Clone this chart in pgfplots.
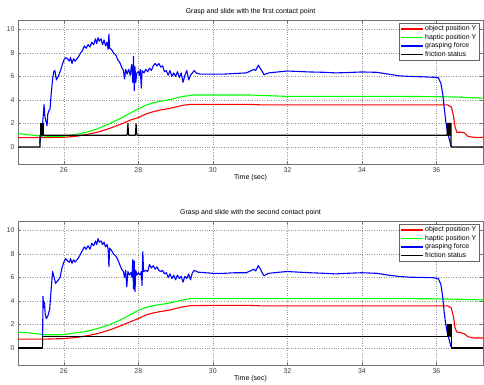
\documentclass[border=0pt]{standalone}
\usepackage{pgfplots}
\pgfplotsset{compat=1.18}
\usepackage{fontspec}
\setmainfont{Liberation Sans}
\definecolor{mred}{rgb}{1,0,0}
\definecolor{mgreen}{rgb}{0,1,0}
\definecolor{mblue}{rgb}{0,0,1}
\pgfplotsset{
  legend image code/.code={\draw[#1, line width=1.3pt] (0bp,0bp) -- (22bp,0bp);},
  myax/.style={
    scale only axis, width=465bp, height=144bp,
    xmin=24.77, xmax=37.25, ymin=-1.45, ymax=10.8,
    xtick={26,28,30,32,34,36}, ytick={0,2,4,6,8,10},
    grid=major, major grid style={dotted, black!40, line width=0.45pt},
    axis line style={black!55, line width=0.6pt},
    tick style={black!55}, tick align=inside, major tick length=3bp,
    ticklabel style={font=\fontsize{7}{8}\selectfont, text=black!75},
    /pgf/number format/assume math mode=true,
    xlabel={Time (sec)}, xlabel style={font=\fontsize{7}{8}\selectfont, yshift=5bp},
    title style={font=\fontsize{7}{8}\selectfont, yshift=-4bp},
    legend style={at={(1,1)}, anchor=north east, xshift=-4bp, yshift=-3bp,
      font=\fontsize{7}{8}\selectfont, draw=black!60, inner sep=1.5pt, row sep=0pt,
      nodes={inner sep=1pt}, cells={anchor=west}},
    every axis plot/.append style={line width=1.1pt, line join=round},
  }
}
\begin{document}
\begin{tikzpicture}
\path[use as bounding box] (0,0) rectangle (484bp,-385bp);
% ---------------- top axis ----------------
\begin{axis}[myax, at={(18bp,-164bp)}, anchor=south west,
  title={Grasp and slide with the first contact point}]
\addplot[mred] coordinates {(24.77,0.8)(25.5,0.8)(26.0,0.82)(26.3,0.9)(26.6,1.05)(26.9,1.25)(27.2,1.55)(27.5,1.9)(27.8,2.3)(28.0,2.5)(28.2,2.8)(28.4,3.0)(28.6,3.15)(28.8,3.25)(29.0,3.4)(29.2,3.55)(29.4,3.62)(30,3.62)(31,3.62)(31.3,3.58)(36.3,3.58)(36.4,3.4)(36.46,2.6)(36.5,1.7)(36.55,1.25)(36.65,1.25)(36.75,1.2)(36.85,0.9)(37,0.82)(37.25,0.82)};
\addlegendentry{object position Y}
\addplot[mgreen] coordinates {(24.77,1.15)(25.0,1.05)(25.3,0.95)(25.6,0.9)(25.9,0.9)(26.1,0.95)(26.3,1.05)(26.6,1.25)(26.9,1.55)(27.2,1.95)(27.5,2.4)(27.8,2.9)(28.0,3.25)(28.2,3.55)(28.4,3.75)(28.6,3.9)(28.8,4.0)(29.0,4.15)(29.2,4.3)(29.5,4.42)(30,4.42)(31,4.42)(32,4.3)(35,4.3)(36,4.28)(36.5,4.25)(37.25,4.15)};
\addlegendentry{haptic position Y}
\addplot[mblue] coordinates {(25.35,0.3)(25.38,0.8)(25.42,1.5)(25.45,2.8)(25.47,3.6)(25.49,2.6)(25.52,2.2)(25.55,1.8)(25.57,2.8)(25.6,3.1)(25.63,3.2)(25.66,4.5)(25.7,5.8)(25.73,6.4)(25.76,6.5)(25.8,5.7)(25.85,6.0)(25.9,6.4)(25.95,6.9)(26.0,7.4)(26.05,7.6)(26.1,7.5)(26.15,7.3)(26.18,7.6)(26.22,7.1)(26.26,7.5)(26.3,7.3)(26.35,7.5)(26.4,7.7)(26.45,8.0)(26.5,8.2)(26.55,8.6)(26.6,8.4)(26.65,8.7)(26.7,8.5)(26.75,8.9)(26.8,8.7)(26.85,9.2)(26.88,8.8)(26.92,9.3)(26.95,9.0)(27.0,9.2)(27.04,8.7)(27.08,9.1)(27.12,8.6)(27.16,8.9)(27.19,8.3)(27.21,9.6)(27.23,8.4)(27.28,8.3)(27.33,8.0)(27.4,7.8)(27.45,7.4)(27.5,7.2)(27.55,6.8)(27.6,6.5)(27.63,5.8)(27.66,6.6)(27.7,6.2)(27.74,6.6)(27.78,6.1)(27.82,7.0)(27.85,5.5)(27.87,7.7)(27.89,4.8)(27.91,6.8)(27.93,5.5)(27.96,6.3)(28.0,6.4)(28.03,6.1)(28.05,6.6)(28.08,5.0)(28.1,6.5)(28.15,6.3)(28.2,6.6)(28.25,6.4)(28.3,6.7)(28.35,6.5)(28.4,6.9)(28.45,7.1)(28.5,6.9)(28.55,7.1)(28.6,6.8)(28.65,6.9)(28.7,6.4)(28.75,6.5)(28.8,6.1)(28.85,6.5)(28.9,6.0)(28.95,6.3)(29.0,6.0)(29.05,6.4)(29.1,5.9)(29.15,6.3)(29.2,5.5)(29.25,6.1)(29.3,6.5)(29.35,5.7)(29.4,6.1)(29.45,6.3)(29.5,6.5)(29.55,6.3)(29.65,6.2)(29.8,6.2)(30.0,6.2)(30.3,6.2)(30.6,6.25)(30.9,6.3)(31.0,6.45)(31.1,6.6)(31.15,6.5)(31.22,6.95)(31.27,6.7)(31.33,6.4)(31.37,6.15)(31.5,6.3)(31.8,6.4)(32.0,6.46)(32.3,6.42)(32.6,6.38)(33.0,6.35)(33.3,6.3)(33.6,6.33)(34.0,6.38)(34.4,6.35)(34.7,6.2)(35.0,6.05)(35.3,6.0)(35.6,5.97)(35.9,5.93)(36.05,5.9)(36.12,5.4)(36.17,4.5)(36.21,3.3)(36.25,2.2)(36.3,1.2)(36.35,0.6)(36.39,0.1)};
\addlegendentry{grasping force}
\addplot[black] coordinates {(24.77,0)(25.36,0)(25.36,1)(25.38,1)(25.38,2)(25.40,2)(25.40,1)(25.41,1)(25.41,2)(25.43,2)(25.43,1)(25.44,1)(25.44,2)(25.45,2)(25.45,1)(27.70,1)(27.72,2)(27.74,1)(27.92,1)(27.94,2)(27.96,1)(36.29,1)(36.29,2)(36.31,2)(36.31,1)(36.32,1)(36.32,2)(36.34,2)(36.34,1)(36.35,1)(36.35,2)(36.37,2)(36.37,1)(36.38,1)(36.38,2)(36.39,2)(36.39,0)(37.25,0)};
\addlegendentry{friction status}
\end{axis}
% ---------------- bottom axis ----------------
\begin{axis}[myax, at={(18bp,-365bp)}, anchor=south west,
  title={Grasp and slide with the second contact point}]
\addplot[mred] coordinates {(24.77,0.75)(25.5,0.75)(26.0,0.8)(26.3,0.88)(26.6,1.02)(26.9,1.22)(27.2,1.5)(27.5,1.85)(27.8,2.25)(28.0,2.5)(28.2,2.8)(28.4,2.98)(28.6,3.1)(28.8,3.2)(29.0,3.35)(29.2,3.5)(29.4,3.6)(30,3.62)(31,3.62)(31.3,3.58)(36.3,3.58)(36.4,3.4)(36.46,2.6)(36.5,1.7)(36.55,1.35)(36.65,1.3)(36.75,1.2)(36.85,0.95)(37,0.85)(37.25,0.85)};
\addlegendentry{object position Y}
\addplot[mgreen] coordinates {(24.77,1.35)(25.0,1.3)(25.3,1.2)(25.5,1.12)(25.9,1.12)(26.1,1.18)(26.3,1.28)(26.6,1.4)(26.9,1.65)(27.2,1.95)(27.5,2.35)(27.8,2.85)(28.0,3.2)(28.2,3.45)(28.4,3.6)(28.6,3.7)(28.8,3.8)(29.0,3.95)(29.2,4.1)(29.4,4.2)(30,4.2)(31,4.2)(32,4.2)(35,4.2)(36,4.18)(36.5,4.15)(37.25,4.08)};
\addlegendentry{haptic position Y}
\addplot[mblue] coordinates {(25.43,0.2)(25.44,4.4)(25.46,3.4)(25.48,3.9)(25.5,2.9)(25.53,2.5)(25.57,2.7)(25.62,3.3)(25.66,5.0)(25.7,6.5)(25.74,6.0)(25.78,5.5)(25.83,5.7)(25.9,6.0)(25.95,6.8)(26.0,7.3)(26.05,7.6)(26.1,7.4)(26.15,7.3)(26.18,7.6)(26.22,7.2)(26.26,7.5)(26.3,7.3)(26.35,7.5)(26.4,7.7)(26.45,8.0)(26.5,8.3)(26.55,8.6)(26.6,8.4)(26.65,8.7)(26.7,8.4)(26.75,8.9)(26.8,8.7)(26.85,9.1)(26.88,8.8)(26.92,9.3)(26.95,9.0)(27.0,9.1)(27.04,8.8)(27.08,9.0)(27.12,8.6)(27.16,8.8)(27.19,8.4)(27.21,6.9)(27.23,8.5)(27.28,8.3)(27.33,8.0)(27.4,7.8)(27.45,7.5)(27.5,7.1)(27.55,6.7)(27.6,6.5)(27.63,6.0)(27.66,6.6)(27.69,5.2)(27.72,6.5)(27.76,6.2)(27.8,6.4)(27.83,6.0)(27.85,7.5)(27.87,5.0)(27.89,7.4)(27.91,4.8)(27.93,6.6)(27.96,6.2)(28.0,6.4)(28.05,6.2)(28.08,6.5)(28.1,5.3)(28.12,8.2)(28.14,6.5)(28.2,6.6)(28.25,6.5)(28.3,7.1)(28.35,6.8)(28.4,7.0)(28.45,6.7)(28.5,6.9)(28.55,6.6)(28.6,6.5)(28.65,6.6)(28.7,6.3)(28.75,6.4)(28.8,6.0)(28.85,6.3)(28.9,5.9)(28.95,6.2)(29.0,5.8)(29.05,6.2)(29.1,5.9)(29.15,6.1)(29.2,5.6)(29.25,6.1)(29.3,5.9)(29.35,6.3)(29.4,5.8)(29.45,6.4)(29.5,6.6)(29.6,6.45)(29.8,6.4)(30.0,6.35)(30.3,6.35)(30.6,6.4)(30.9,6.4)(31.0,6.55)(31.1,6.7)(31.15,6.55)(31.22,7.0)(31.27,6.75)(31.33,6.35)(31.37,6.15)(31.5,6.35)(31.8,6.45)(32.0,6.5)(32.3,6.45)(32.6,6.4)(33.0,6.35)(33.3,6.3)(33.6,6.35)(34.0,6.4)(34.4,6.35)(34.7,6.2)(35.0,6.08)(35.3,6.02)(35.6,6.0)(35.9,5.98)(36.05,5.9)(36.12,5.4)(36.17,4.3)(36.21,3.0)(36.25,2.0)(36.3,1.2)(36.35,0.6)(36.39,0.1)};
\addlegendentry{grasping force}
\addplot[black] coordinates {(24.77,0)(25.43,0)(25.43,1)(36.30,1)(36.30,2)(36.32,2)(36.32,1)(36.33,1)(36.33,2)(36.35,2)(36.35,1)(36.36,1)(36.36,2)(36.38,2)(36.38,1)(36.39,1)(36.39,2)(36.40,2)(36.40,0)(37.25,0)};
\addlegendentry{friction status}
\end{axis}
\end{tikzpicture}
\end{document}
